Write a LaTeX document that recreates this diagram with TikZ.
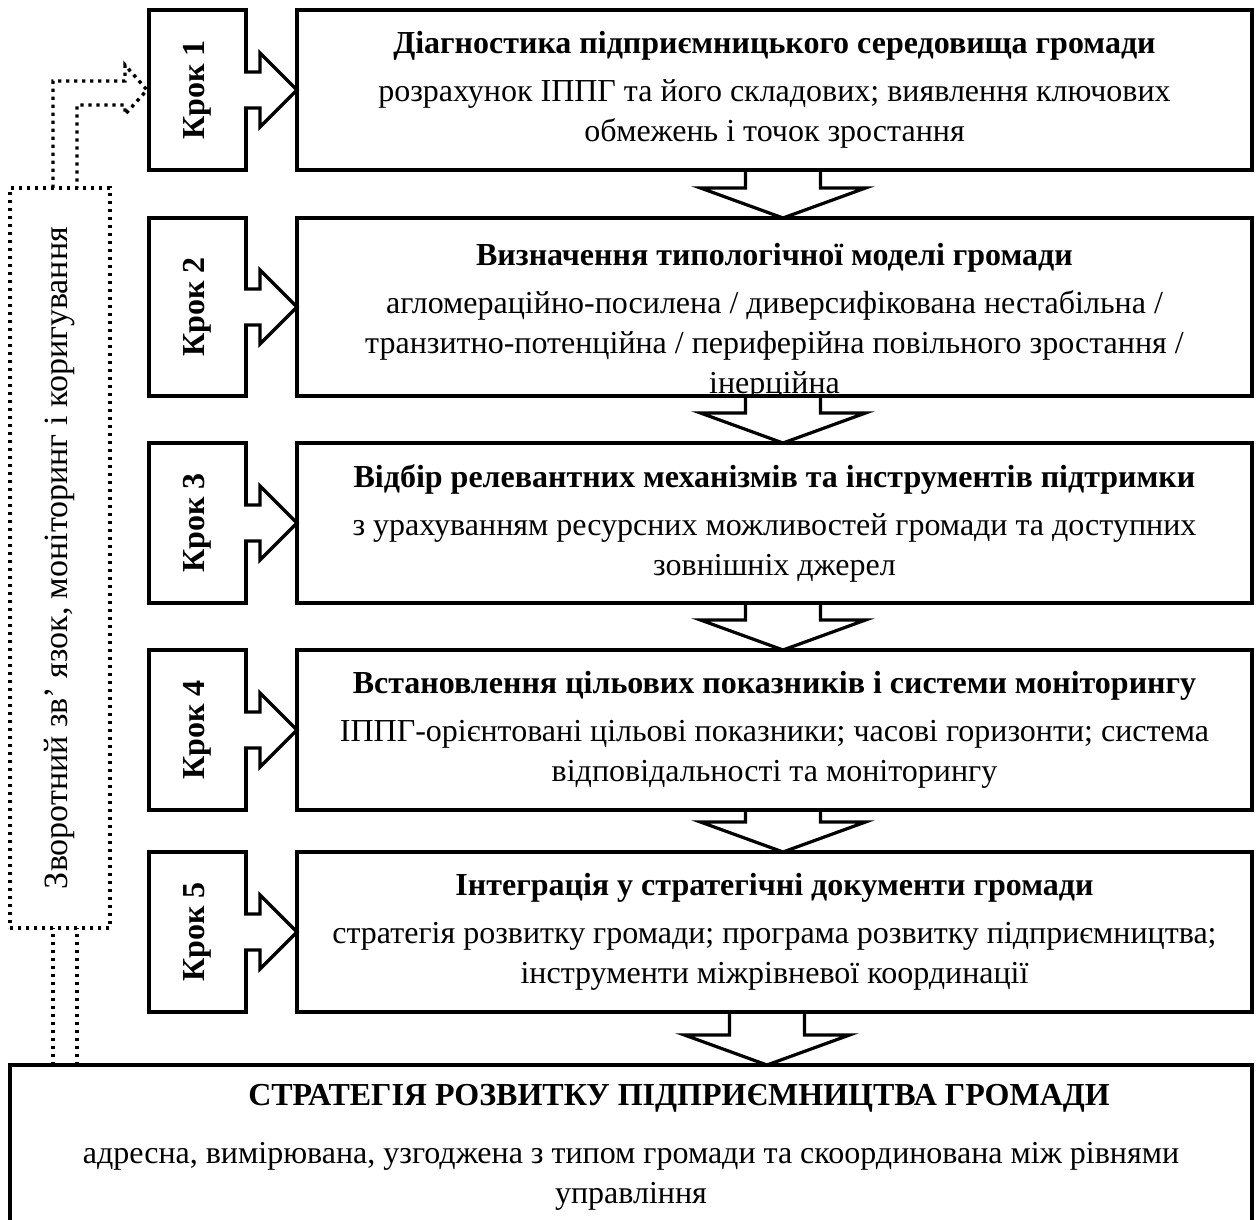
\documentclass[tikz,border=0pt]{standalone}
\usepackage{fontspec}
\setmainfont{Liberation Serif}
\usetikzlibrary{positioning, calc}

\tikzset{
  mainbox/.style={draw, line width=1.9pt, minimum width=477.5pt, minimum height=80pt,
    align=center, outer sep=0pt, inner sep=2pt, font=\fontsize{16}{20}\selectfont},
  stepbox/.style={draw, line width=1.9pt, minimum width=48.5pt, outer sep=0pt},
  steplabel/.style={rotate=90, font=\fontsize{16}{20}\selectfont\bfseries},
  blockarrow/.style={draw, line width=1.6pt, miter limit=10},
  fbline/.style={line width=1.7pt, dash pattern=on 1.7pt off 2.3pt},
}

\begin{document}
\begin{tikzpicture}[x=1pt, y=1pt]
  \useasboundingbox (0,0) rectangle (629.5,-610);

  % main column
  \node[mainbox] (m1) at (387.25,-45) {\textbf{Діагностика підприємницького середовища громади}\\[4pt]
    розрахунок ІППГ та його складових; виявлення ключових\\ обмежень і точок зростання};
  \node[mainbox, minimum height=89pt, below=24pt of m1] (m2) {};
  \node[mainbox, below=23.5pt of m2] (m3) {\textbf{Відбір релевантних механізмів та інструментів підтримки}\\[4pt]
    з урахуванням ресурсних можливостей громади та доступних\\ зовнішніх джерел};
  \node[mainbox, below=23.5pt of m3] (m4) {\textbf{Встановлення цільових показників і системи моніторингу}\\[4pt]
    ІППГ-орієнтовані цільові показники; часові горизонти; система\\ відповідальності та моніторингу};
  \node[mainbox, below=21pt of m4] (m5) {\textbf{Інтеграція у стратегічні документи громади}\\[4pt]
    стратегія розвитку громади; програма розвитку підприємництва;\\ інструменти міжрівневої координації};

  % text of step 2 runs past the box
  \begin{scope}
    \clip (m2.north west) rectangle ($(m2.south east)+(0,0.95)$);
    \node[align=center, font=\fontsize{16}{20}\selectfont] (t2) at ($(m2.center)+(0,-7.5)$)
      {\textbf{Визначення типологічної моделі громади}\\[4pt]
       агломераційно-посилена / диверсифікована нестабільна /\\
       транзитно-потенційна / периферійна повільного зростання /\\ інерційна};
  \end{scope}

  % steps
  \foreach \i/\h in {1/80,2/89,3/80,4/80,5/80}
    \node[stepbox, minimum height=\h pt, left=25.5pt of m\i,
      label={[steplabel]center:Крок \i}] (k\i) {};

  % result
  \node[draw, line width=1.9pt, minimum width=621pt, minimum height=90pt, outer sep=0pt,
    anchor=north west] (strat) at (5,-532.5) {};
  \node[font=\fontsize{16}{20}\selectfont\bfseries, anchor=base] (stitle)
    at ($(strat.north)+(24,-20)$) {СТРАТЕГІЯ РОЗВИТКУ ПІДПРИЄМНИЦТВА ГРОМАДИ};
  \node[font=\fontsize{16}{20}\selectfont, anchor=base] (sline1)
    at ($(strat.north)+(0,-49)$) {адресна, вимірювана, узгоджена з типом громади та скоординована між рівнями};
  \node[font=\fontsize{16}{20}\selectfont, anchor=base] (sline2)
    at ($(strat.north)+(0,-69)$) {управління};

  % feedback
  \node[draw, fbline, minimum width=50pt, minimum height=370pt, outer sep=0pt] (fb) at (30,-279) {};
  \node[rotate=90, font=\fontsize{17}{20}\selectfont] (fbtext) at (fb.center)
    {Зворотний зв’ язок, моніторинг і коригування};

  % arrows step -> box
  \foreach \i in {1,...,5}
    \draw[blockarrow, fill=white] ($(k\i.east)+(-1,9)$) -- ++(8,0) -- ++(0,9.5) -- (m\i.west)
      -- ($(k\i.east)+(7,-18.5)$) -- ++(0,9.5) -- ++(-8,0);

  % arrows box -> box
  \foreach \a/\b/\d in {m1/m2/4.25, m2/m3/4.25, m3/m4/4.25, m4/m5/4.25, m5/strat/-3.75}
    \draw[blockarrow] ($(\a.south)+(\d-18.75,0)$) -- ($(\a.south |- \b.north)+(\d-18.75,15)$)
      -- ++(-22.5,0) -- ($(\a.south |- \b.north)+(\d,0)$) -- ($(\a.south |- \b.north)+(\d+41.25,15)$)
      -- ++(-22.5,0) -- ($(\a.south)+(\d+18.75,0)$);

  % feedback arrow
  \coordinate (fbo) at ($(fb.south west)+(21.5,0)$);
  \coordinate (fbi) at ($(fb.south west)+(33.5,0)$);
  \draw[fbline] (fbo |- strat.north) -- (fbo);
  \draw[fbline] (fbi |- strat.north) -- (fbi);
  \draw[fbline] (fbo |- fb.north) -- ++(0,53.5) -- ++(36,0) -- ++(0,8) -- ($(k1.west)+(-1,0)$)
    -- ++(-11,-12.25) -- ++(0,4.75) -- ++(-24,0) -- (fbi |- fb.north);
\end{tikzpicture}
\end{document}
